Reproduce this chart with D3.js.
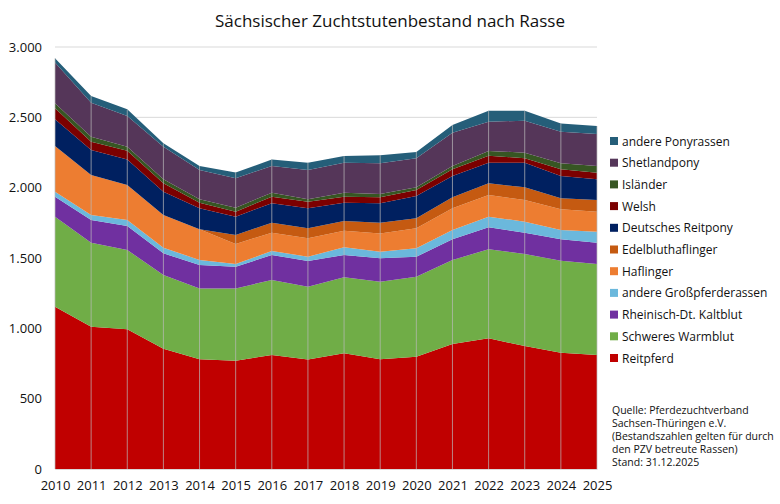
<!DOCTYPE html>
<html>
<head>
<meta charset="utf-8">
<script src="https://cdn.jsdelivr.net/npm/d3@7"></script>
<style>
body { margin: 0; background: #fff; font-family: "Open Sans", "Liberation Sans", sans-serif; }
</style>
</head>
<body>
<script>
var w = 780;
var h = 504;
var margin = {top: 47, right: 183, bottom: 35, left: 55};

// Data
var years = [2010, 2011, 2012, 2013, 2014, 2015, 2016, 2017, 2018, 2019, 2020, 2021, 2022, 2023, 2024, 2025];
var reitpferd        = [1154, 1012, 993, 855, 780, 770, 810, 778, 822, 780, 798, 889, 929, 874, 827, 810];
var schweresWarmblut = [640, 597, 564, 524, 504, 514, 534, 518, 541, 552, 569, 597, 633, 654, 654, 647];
var rheinischKaltblut = [142, 161, 170, 154, 166, 154, 177, 183, 158, 166, 142, 147, 156, 152, 152, 152];
var andereGross      = [35, 36, 43, 40, 36, 19, 29, 30, 55, 47, 60, 66, 76, 78, 66, 78];
var haflinger        = [325, 284, 249, 233, 218, 143, 130, 131, 118, 130, 142, 154, 154, 154, 147, 142];
var edelbluthaflinger = [0, 0, 0, 0, 0, 63, 71, 71, 69, 76, 71, 79, 83, 91, 78, 83];
var deutschesReitpony = [190, 178, 182, 165, 149, 131, 138, 142, 130, 138, 159, 151, 146, 174, 159, 148];
var welsh            = [78, 59, 62, 60, 40, 35, 47, 47, 43, 43, 42, 48, 50, 32, 48, 46];
var islaender        = [36, 35, 28, 28, 24, 29, 28, 17, 28, 23, 20, 23, 34, 40, 42, 48];
var shetlandpony     = [289, 242, 218, 231, 208, 209, 190, 208, 213, 218, 206, 237, 208, 227, 225, 228];
var anderePony       = [31, 48, 48, 25, 29, 40, 47, 52, 48, 57, 45, 55, 78, 71, 59, 56];

var seriesNames = ["Reitpferd", "Schweres Warmblut", "Rheinisch-Dt. Kaltblut", "andere Großpferderassen",
    "Haflinger", "Edelbluthaflinger", "Deutsches Reitpony", "Welsh", "Isländer", "Shetlandpony", "andere Ponyrassen"];
var seriesValues = [reitpferd, schweresWarmblut, rheinischKaltblut, andereGross, haflinger, edelbluthaflinger,
    deutschesReitpony, welsh, islaender, shetlandpony, anderePony];
var colors = ["#C00000", "#70AD47", "#7030A0", "#6BB8DC", "#ED7D31", "#C55A11",
    "#002060", "#7B0000", "#375623", "#553659", "#255E79"];
var yTicks = [0, 500, 1000, 1500, 2000, 2500, 3000];
var sourceLines = ["Quelle: Pferdezuchtverband", "Sachsen-Thüringen e.V.",
    "(Bestandszahlen gelten für durch", "den PZV betreute Rassen)", "Stand: 31.12.2025"];

//Build table for stack
var table = years.map(function (y, i) {
    var row = {year: y};
    seriesNames.forEach(function (n, k) { row[n] = seriesValues[k][i]; });
    return row;
});
var stacked = d3.stack().keys(seriesNames)(table);

var xScale = d3.scaleLinear().domain([2010, 2025]).range([margin.left, w - margin.right]);
var yScale = d3.scaleLinear().domain([0, 3000]).range([h - margin.bottom, margin.top]);
var fmt = d3.formatLocale({decimal: ",", thousands: ".", grouping: [3], currency: ["", "€"]}).format(",");

var svg = d3.select("body").append("svg").attr("width", w).attr("height", h);

svg.append("text")
    .attr("x", 390).attr("y", 27)
    .attr("text-anchor", "middle")
    .attr("font-size", 17)
    .attr("fill", "#111")
    .text("Sächsischer Zuchtstutenbestand nach Rasse");

//horizontal grid
svg.selectAll("line.grid")
    .data(yTicks)
    .enter()
    .append("line")
    .attr("class", "grid")
    .attr("x1", margin.left).attr("x2", w - margin.right)
    .attr("y1", function (d) { return yScale(d); })
    .attr("y2", function (d) { return yScale(d); })
    .attr("stroke", "#d9d9d9");

var area = d3.area()
    .x(function (d) { return xScale(d.data.year); })
    .y0(function (d) { return yScale(d[0]); })
    .y1(function (d) { return yScale(d[1]); });

svg.selectAll("path.layer")
    .data(stacked)
    .enter()
    .append("path")
    .attr("class", "layer")
    .attr("d", area)
    .attr("fill", function (d, i) { return colors[i]; });

//vertical guide lines over the areas
svg.selectAll("line.vgrid")
    .data(years)
    .enter()
    .append("line")
    .attr("class", "vgrid")
    .attr("x1", function (d) { return xScale(d); })
    .attr("x2", function (d) { return xScale(d); })
    .attr("y1", yScale(0))
    .attr("y2", function (d, i) { return yScale(stacked[stacked.length - 1][i][1]); })
    .attr("stroke", "#bbbbbb")
    .attr("stroke-opacity", 0.7)
    .attr("stroke-width", 1);

var xaxis = d3.axisBottom(xScale).tickValues(years).tickFormat(d3.format("d")).tickSize(0).tickPadding(12);
var yaxis = d3.axisLeft(yScale).tickValues(yTicks).tickFormat(fmt).tickSize(0).tickPadding(13);

svg.append("g")
    .attr("transform", "translate(0," + yScale(0) + ")")
    .call(xaxis)
    .call(function (g) { g.select(".domain").attr("stroke", "#d9d9d9"); })
    .selectAll("text").attr("font-size", 13).attr("fill", "#111").attr("font-family", "Open Sans, sans-serif");

svg.append("g")
    .attr("transform", "translate(" + margin.left + ",0)")
    .call(yaxis)
    .call(function (g) { g.select(".domain").remove(); })
    .selectAll("text").attr("font-size", 13).attr("fill", "#111").attr("font-family", "Open Sans, sans-serif");

//legend, top entry is last series
var legendOrder = seriesNames.map(function (n, i) { return i; }).reverse();
var legend = svg.selectAll("g.legend")
    .data(legendOrder)
    .enter()
    .append("g")
    .attr("class", "legend")
    .attr("transform", function (d, j) { return "translate(610," + (141 + j * 21.7) + ")"; });
legend.append("rect")
    .attr("x", 0).attr("y", -4).attr("width", 8).attr("height", 8)
    .attr("fill", function (d) { return colors[d]; });
legend.append("text")
    .attr("x", 12).attr("y", 4.5)
    .attr("font-size", 12).attr("fill", "#111")
    .text(function (d) { return seriesNames[d]; });

svg.selectAll("text.source")
    .data(sourceLines)
    .enter()
    .append("text")
    .attr("class", "source")
    .attr("x", 612)
    .attr("y", function (d, i) { return 414 + i * 13; })
    .attr("font-size", 10.5).attr("fill", "#111")
    .text(function (d) { return d; });
</script>
</body>
</html>
